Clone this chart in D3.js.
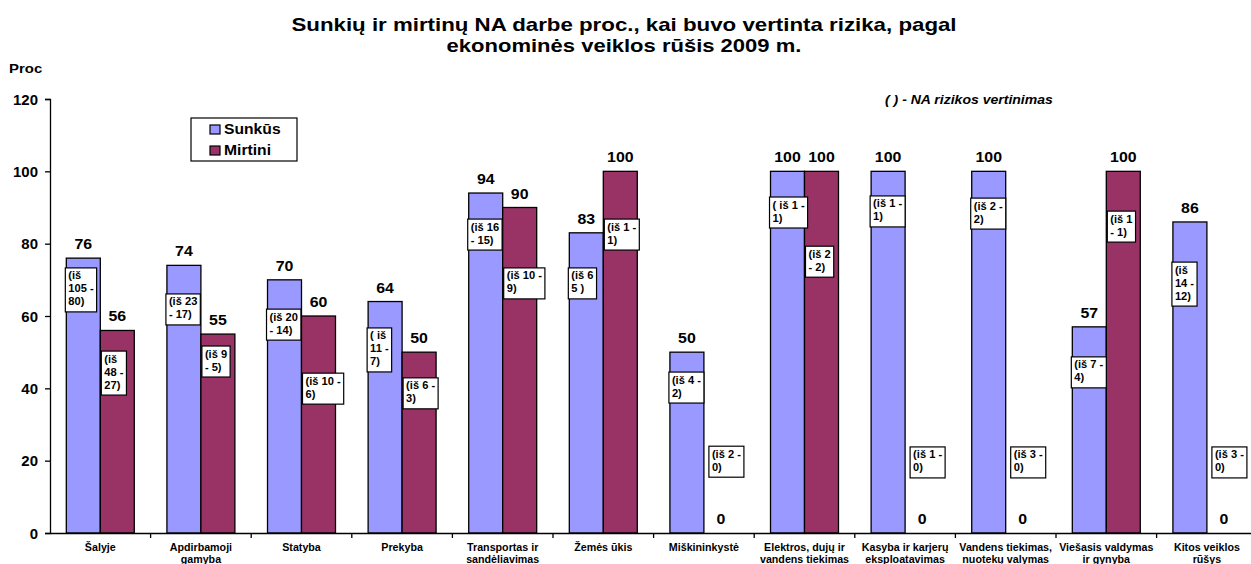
<!DOCTYPE html>
<html>
<head>
<meta charset="utf-8">
<script src="https://cdn.jsdelivr.net/npm/d3@7"></script>
<style>
  body { margin: 0; background: #fff; }
  svg { display: block; }
  text { font-family: "Liberation Sans", Arial, sans-serif; font-weight: bold; fill: #000; }
</style>
</head>
<body>
<div id="chart"></div>
<script>
// categories (second line of each label after \n)
const categories = [
  "Šalyje", "Apdirbamoji\ngamyba", "Statyba", "Prekyba", "Transportas ir\nsandėliavimas",
  "Žemės ūkis", "Miškininkystė", "Elektros, dujų ir\nvandens tiekimas",
  "Kasyba ir karjerų\neksploatavimas", "Vandens tiekimas,\nnuotekų valymas",
  "Viešasis valdymas\nir gynyba", "Kitos veiklos\nrūšys"
];
const seriesNames = ["Sunkūs", "Mirtini"];
const sunkus  = [76, 74, 70, 64, 94, 83, 50, 100, 100, 100, 57, 86];
const mirtini = [56, 55, 60, 50, 90, 100, 0, 100, 0, 0, 100, 0];

// "(iš N - M)" notes and the value level where each note box starts
const sunkusNote = ["(iš\n105 -\n80)", "(iš 23\n- 17)", "(iš 20\n- 14)", "( iš\n11 -\n7)", "(iš 16\n- 15)",
  "(iš 6\n5 )", "(iš 4 -\n2)", "( iš 1 -\n1)", "(iš 1 -\n1)", "(iš 2 -\n2)", "(iš 7 -\n4)", "(iš\n14 -\n12)"];
const mirtiniNote = ["(iš\n48 -\n27)", "(iš 9\n- 5)", "(iš 10 -\n6)", "(iš 6 -\n3)", "(iš 10 -\n9)",
  "(iš 1 -\n1)", "(iš 2 -\n0)", "(iš 2\n- 2)", "(iš 1 -\n0)", "(iš 3 -\n0)", "(iš 1\n- 1)", "(iš 3 -\n0)"];
const sunkusNoteAt  = [73.3, 66.1, 61.9, 56.7, 86.8, 73.3, 44.5, 92.9, 93.2, 92.6, 48.7, 74.9];
const mirtiniNoteAt = [50.3, 51.7, 44.2, 42.9, 73.3, 86.8, 24, 79.3, 23.8, 23.8, 89, 23.8];

const yTicks = [0, 20, 40, 60, 80, 100, 120];
const colors = ["#9999FF", "#993366"];

const W = 1251, H = 564;
const plotLeft = 50, plotBottom = 533, plotTop = 99;
const step = 100.6;

const svg = d3.select("#chart").append("svg").attr("width", W).attr("height", H);

const x = d3.scaleBand().domain(categories).range([plotLeft, plotLeft + step * categories.length]);
const xs = d3.scaleBand().domain(seriesNames).range([0, x.bandwidth()]).paddingOuter(0.48);
const y = d3.scaleLinear().domain([0, 120]).range([plotBottom, plotTop]);

// stretched text helper (the original is a bit wider than Arial)
function stext(g, tx, ty, str, size, sx, anchor) {
  return g.append("text")
    .attr("transform", `translate(${tx},${ty}) scale(${sx},1)`)
    .attr("text-anchor", anchor || "start")
    .style("font-size", size + "px")
    .text(str);
}

// title
stext(svg, 624, 31, "Sunkių ir mirtinų NA darbe proc., kai buvo vertinta rizika, pagal", 18.5, 1.205, "middle");
stext(svg, 624, 52, "ekonominės veiklos rūšis 2009 m.", 18.5, 1.19, "middle");
stext(svg, 9, 73, "Proc", 13, 1.15);
stext(svg, 885, 104, "( ) - NA rizikos vertinimas", 13, 1.08).style("font-style", "italic");

// bars
const rows = categories.map((c, i) => ({
  cat: c,
  vals: [
    { s: seriesNames[0], v: sunkus[i], note: sunkusNote[i], at: sunkusNoteAt[i], k: 0 },
    { s: seriesNames[1], v: mirtini[i], note: mirtiniNote[i], at: mirtiniNoteAt[i], k: 1 }
  ]
}));

const groups = svg.selectAll("g.grp").data(rows).join("g")
  .attr("class", "grp")
  .attr("transform", d => `translate(${x(d.cat)},0)`);

groups.selectAll("rect.bar").data(d => d.vals.filter(v => v.v > 0)).join("rect")
  .attr("class", "bar")
  .attr("x", d => xs(d.s))
  .attr("width", xs.bandwidth())
  .attr("y", d => y(d.v))
  .attr("height", d => y(0) - y(d.v))
  .style("fill", d => colors[d.k])
  .style("stroke", "#000")
  .style("stroke-width", 1.3);

// value labels
groups.each(function (d) {
  const g = d3.select(this);
  d.vals.forEach(v => {
    stext(g, xs(v.s) + xs.bandwidth() / 2, y(v.v) - 9, v.v, 15, 1.06, "middle");
  });
});

// note boxes
groups.each(function (d) {
  const g = d3.select(this);
  d.vals.forEach(v => {
    const lines = v.note.split("\n");
    const bx = xs(v.s) + (v.k === 0 ? -1 : (v.v === 0 ? 5 : 1));
    const by = y(v.at);
    const box = g.append("g");
    const r = box.append("rect");
    let wmax = 0;
    lines.forEach((ln, j) => {
      const t = stext(box, bx + 3, by + 11.5 + j * 13, ln, 10.5, 1.06);
      wmax = Math.max(wmax, t.node().getComputedTextLength() * 1.06);
    });
    r.attr("x", bx).attr("y", by)
      .attr("width", wmax + 6)
      .attr("height", lines.length * 13 + 5)
      .style("fill", "#fff")
      .style("stroke", "#000")
      .style("stroke-width", 1.2);
  });
});

// axes
const yAxis = d3.axisLeft(y).tickValues(yTicks).tickSize(5).tickPadding(7);
const ya = svg.append("g").attr("transform", `translate(${plotLeft},0)`).call(yAxis);
ya.select(".domain").attr("stroke", "#000").attr("stroke-width", 1.3);
ya.selectAll(".tick line").attr("stroke", "#000").attr("stroke-width", 1.3);
ya.selectAll(".tick text").remove();
ya.selectAll(".tick").each(function (d) {
  stext(d3.select(this), -12, 5, d, 14, 1.07, "end");
});

const xAxis = d3.axisBottom(x).tickSize(0).tickFormat("");
const xa = svg.append("g").attr("transform", `translate(0,${plotBottom})`).call(xAxis);
xa.select(".domain").attr("stroke", "#000").attr("stroke-width", 1.3);
xa.selectAll(".bound").data(categories).join("line")
  .attr("x1", d => x(d) + step).attr("x2", d => x(d) + step)
  .attr("y1", 0).attr("y2", 5)
  .attr("stroke", "#000").attr("stroke-width", 1.3);
xa.selectAll(".tick").each(function (d) {
  const g = d3.select(this);
  d.split("\n").forEach((ln, j) => stext(g, 0, 18 + j * 12, ln, 10, 1.07, "middle"));
});

// legend
const lg = svg.append("g").attr("transform", "translate(191,118)");
lg.append("rect").attr("width", 106).attr("height", 43)
  .style("fill", "#fff").style("stroke", "#000").style("stroke-width", 1.2);
seriesNames.forEach((s, i) => {
  lg.append("rect").attr("x", 19).attr("y", 7 + i * 21).attr("width", 10).attr("height", 9)
    .style("fill", colors[i]).style("stroke", "#000").style("stroke-width", 1.2);
  stext(lg, 33, 16 + i * 21, s, 14, 1.12);
});
</script>
</body>
</html>
